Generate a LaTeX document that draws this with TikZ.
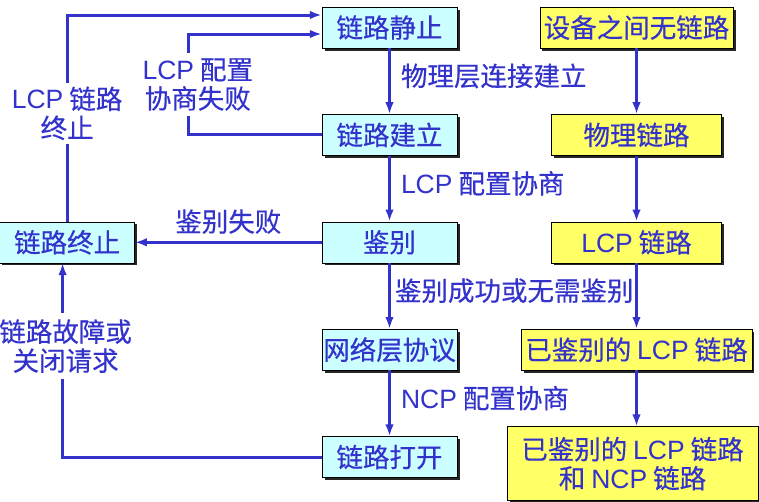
\documentclass[tikz,border=0pt]{standalone}
\usepackage{fontspec}
\setmainfont[FakeBold=0.4]{Noto Sans CJK SC}
\newfontfamily\arial{Liberation Sans}
\usetikzlibrary{arrows.meta, positioning, shadows}
\definecolor{LinkBlue}{RGB}{51,51,204}
\definecolor{StateCyan}{RGB}{204,255,255}
\definecolor{PhaseYellow}{RGB}{255,255,102}
\newcommand{\lat}[1]{{\arial #1}}

\begin{document}
\begin{tikzpicture}[
          x=1pt, y=1pt,
          font=\fontsize{26.5}{29}\selectfont,
          state/.style={rectangle, draw=black, fill=StateCyan, minimum width=135pt, minimum height=41pt, inner xsep=1pt, text=LinkBlue, drop shadow={shadow xshift=2.5pt, shadow yshift=-2.5pt, fill=black, opacity=0.85}},
          phase/.style={rectangle, draw=black, fill=PhaseYellow, minimum width=170pt, minimum height=41pt, inner xsep=4pt, text=LinkBlue, align=center, drop shadow={shadow xshift=2.5pt, shadow yshift=-2.5pt, fill=black, opacity=0.85}},
          arrow/.style={-{Latex[length=12pt, width=8.5pt]}, line width=3pt, LinkBlue},
          lbl/.style={text=LinkBlue, align=center, inner sep=2pt}
        ]
          \useasboundingbox (0,0) rectangle (759,-501);

          % left column: link states
          \node (halt) [state] at (389.5,-27.5) {链路静止};
          \node (estab) [state, below=66pt of halt] {链路建立};
          \node (auth) [state, below=66pt of estab] {鉴别};
          \node (netp) [state, below=66pt of auth] {网络层协议};
          \node (open) [state, below=66pt of netp] {链路打开};
          \node (term) [state, left=187pt of auth] {链路终止};

          % right column: what exists between the devices
          \node (none) [phase] at (636.5,-27.5) {设备之间无链路};
          \node (phys) [phase, below=66pt of none] {物理链路};
          \node (lcpl) [phase, below=66pt of phys] {\lat{LCP} 链路};
          \node (authl) [phase, below=66pt of lcpl] {已鉴别的 \lat{LCP} 链路};
          \node (ncpl) [phase, below=56pt of authl, xshift=-4pt, minimum height=74pt, inner xsep=14pt, inner ysep=1pt] {已鉴别的 \lat{LCP} 链路\\和 \lat{NCP} 链路};

          \draw [arrow] (halt) -- node[lbl, right=8pt, pos=0.42] {物理层连接建立} (estab);
          \draw [arrow] (estab) -- node[lbl, right=8pt, pos=0.42] {\lat{LCP} 配置协商} (auth);
          \draw [arrow] (auth) -- node[lbl, right=2pt, pos=0.42] {鉴别成功或无需鉴别} (netp);
          \draw [arrow] (netp) -- node[lbl, right=8pt, pos=0.42] {\lat{NCP} 配置协商} (open);

          \draw [arrow] (none) -- (phys);
          \draw [arrow] (phys) -- (lcpl);
          \draw [arrow] (lcpl) -- (authl);
          \draw [arrow] (authl) -- (ncpl.north -| authl);

          \draw [arrow] (auth) -- node[lbl, above=5pt] {鉴别失败} (term);
          \draw [arrow] (term.north) |- node[lbl, fill=white, pos=0.262, inner ysep=4pt] {\lat{LCP} 链路\\终止} ([yshift=12.5pt]halt.west);
          \draw [arrow] (estab.west) -- ++(-133pt,0) |- node[lbl, fill=white, pos=0.25, xshift=9pt, inner ysep=5pt] {\lat{LCP} 配置\\协商失败} ([yshift=-6.5pt]halt.west);
          \draw [arrow] (open.west) -| node[lbl, fill=white, pos=0.786, xshift=3pt, inner ysep=6pt] {链路故障或\\关闭请求} ([xshift=-4.5pt]term.south);
        \end{tikzpicture}
\end{document}
